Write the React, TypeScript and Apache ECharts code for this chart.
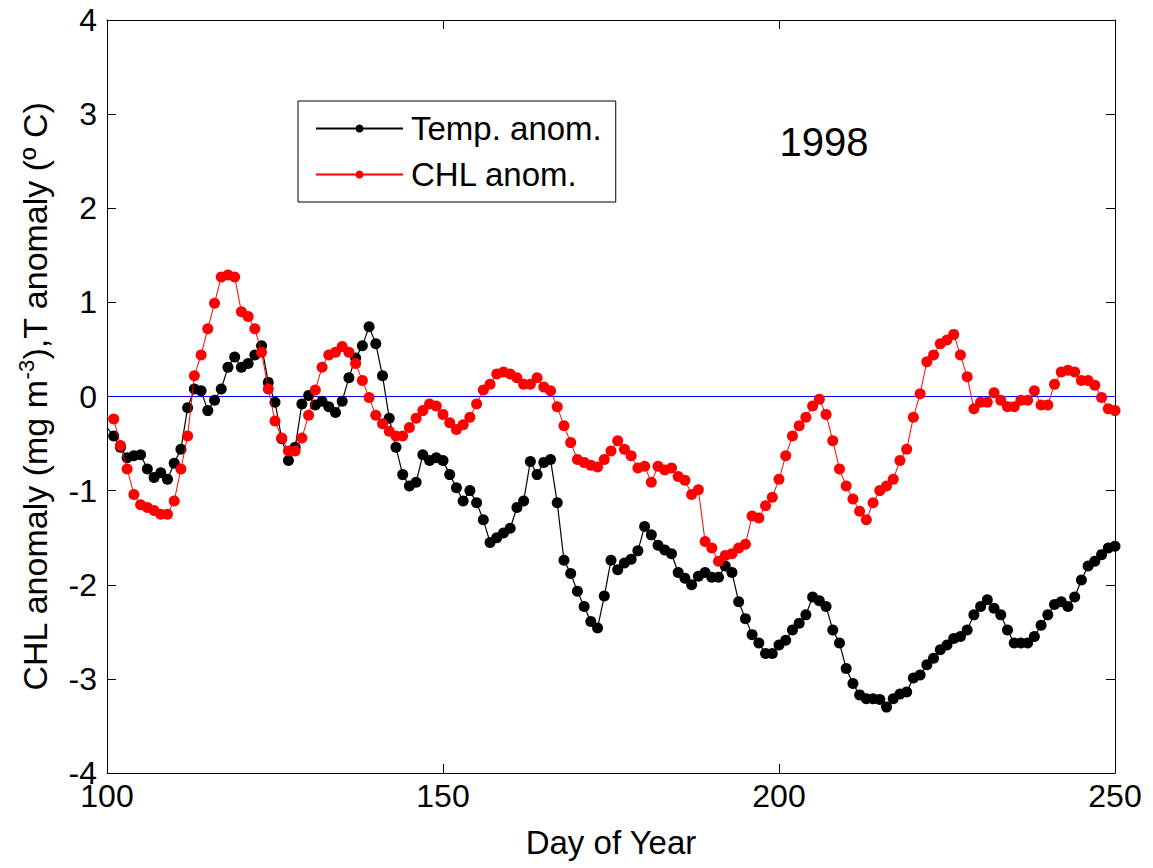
import React, { useEffect, useRef } from "react";
import * as echarts from "echarts";

const startDay = 100;
const xTicks = [100, 150, 200, 250];
const yTicks = [-4, -3, -2, -1, 0, 1, 2, 3, 4];
const seriesNames = ["Temp. anom.", "CHL anom."];
const yearLabel = "1998";

const tempAnom = [
  -0.33, -0.42, -0.54, -0.65, -0.63, -0.62, -0.77, -0.86, -0.81, -0.88,
  -0.71, -0.56, -0.12, 0.08, 0.06, -0.15, -0.04, 0.08, 0.31, 0.42,
  0.31, 0.35, 0.44, 0.54, 0.15, -0.06, -0.45, -0.68, -0.54, -0.08,
  0.01, -0.09, -0.05, -0.11, -0.17, -0.05, 0.2, 0.41, 0.54, 0.74,
  0.56, 0.22, -0.23, -0.54, -0.83, -0.95, -0.91, -0.62, -0.68, -0.65,
  -0.68, -0.83, -0.97, -1.11, -1.0, -1.13, -1.31, -1.55, -1.5, -1.45,
  -1.4, -1.18, -1.11, -0.69, -0.83, -0.7, -0.67, -1.13, -1.74, -1.88,
  -2.07, -2.23, -2.39, -2.46, -2.12, -1.74, -1.84, -1.77, -1.73, -1.64,
  -1.38, -1.47, -1.58, -1.63, -1.67, -1.87, -1.93, -2.0, -1.91, -1.87,
  -1.92, -1.92, -1.8, -1.87, -2.18, -2.36, -2.53, -2.62, -2.73, -2.73,
  -2.64, -2.59, -2.48, -2.41, -2.32, -2.13, -2.17, -2.23, -2.48, -2.62,
  -2.89, -3.05, -3.17, -3.21, -3.21, -3.22, -3.3, -3.21, -3.16, -3.14,
  -2.99, -2.96, -2.85, -2.78, -2.69, -2.64, -2.57, -2.55, -2.48, -2.32,
  -2.23, -2.16, -2.25, -2.32, -2.48, -2.62, -2.62, -2.62, -2.55, -2.43,
  -2.32, -2.21, -2.18, -2.23, -2.13, -1.95, -1.8, -1.75, -1.68, -1.61,
  -1.59,
];

const chlAnom = [
  -0.22, -0.24, -0.52, -0.77, -1.04, -1.15, -1.18, -1.21, -1.25, -1.25,
  -1.11, -0.77, -0.42, 0.22, 0.44, 0.72, 0.99, 1.27, 1.29, 1.27,
  0.9, 0.85, 0.72, 0.47, 0.08, -0.26, -0.44, -0.58, -0.58, -0.44,
  -0.2, 0.07, 0.31, 0.44, 0.47, 0.53, 0.47, 0.35, 0.17, -0.01,
  -0.2, -0.29, -0.37, -0.42, -0.42, -0.33, -0.23, -0.15, -0.08, -0.1,
  -0.19, -0.28, -0.35, -0.3, -0.22, -0.08, 0.07, 0.13, 0.24, 0.26,
  0.24, 0.2, 0.13, 0.13, 0.2, 0.1, 0.06, -0.11, -0.31, -0.49,
  -0.67, -0.7, -0.73, -0.75, -0.67, -0.58, -0.47, -0.56, -0.63, -0.76,
  -0.74, -0.91, -0.74, -0.78, -0.76, -0.85, -0.89, -1.04, -0.99, -1.54,
  -1.61, -1.75, -1.69, -1.67, -1.61, -1.57, -1.27, -1.29, -1.16, -1.07,
  -0.88, -0.63, -0.42, -0.31, -0.22, -0.1, -0.03, -0.19, -0.47, -0.77,
  -0.95, -1.09, -1.22, -1.31, -1.13, -1.0, -0.95, -0.88, -0.68, -0.56,
  -0.22, 0.03, 0.37, 0.44, 0.56, 0.6, 0.66, 0.44, 0.21, -0.13,
  -0.06, -0.06, 0.04, -0.04, -0.11, -0.11, -0.04, -0.04, 0.06, -0.09,
  -0.09, 0.13, 0.26, 0.28, 0.26, 0.17, 0.17, 0.12, -0.01, -0.13,
  -0.15,
];

const FONT = "'Liberation Sans', Arial, Helvetica, sans-serif";

function toPoints(values: number[]) {
  return values.map((v, i) => {
    const day = startDay + i;
    if (i === 0) return { value: [day, v], symbol: "none" };
    return { value: [day, v] };
  });
}

export default function App() {
  const ref = useRef<HTMLDivElement>(null);

  useEffect(() => {
    if (!ref.current) return;
    const chart = echarts.init(ref.current, null, { renderer: "svg" });
    const axisCommon = {
      type: "value" as const,
      axisLine: { show: true, onZero: false, lineStyle: { color: "#000", width: 1 } },
      axisTick: { show: true, inside: true, length: 9, lineStyle: { color: "#000", width: 1 } },
      splitLine: { show: false },
    };
    chart.setOption({
      animation: false,
      backgroundColor: "#fff",
      textStyle: { fontFamily: FONT },
      grid: { left: 107, right: 38, top: 20, bottom: 95, containLabel: false },
      legend: {
        orient: "vertical",
        left: 298,
        top: 101,
        data: seriesNames,
        itemWidth: 87,
        itemHeight: 10,
        itemGap: 13,
        padding: [11, 14, 11, 17],
        borderColor: "#000",
        borderWidth: 1,
        backgroundColor: "#fff",
        textStyle: { fontSize: 33, color: "#000", fontFamily: FONT, padding: [0, 0, 0, 3] },
      },
      xAxis: [
        {
          ...axisCommon,
          position: "bottom",
          min: xTicks[0],
          max: xTicks[xTicks.length - 1],
          interval: 50,
          axisLabel: { fontSize: 32, color: "#000", margin: 7, fontFamily: FONT },
          name: "Day of Year",
          nameLocation: "middle",
          nameGap: 53,
          nameTextStyle: { fontSize: 33, color: "#000", fontFamily: FONT },
        },
        {
          ...axisCommon,
          position: "top",
          min: xTicks[0],
          max: xTicks[xTicks.length - 1],
          interval: 50,
          axisLabel: { show: false },
        },
      ],
      yAxis: [
        {
          ...axisCommon,
          position: "left",
          min: yTicks[0],
          max: yTicks[yTicks.length - 1],
          interval: 1,
          axisLabel: { fontSize: 32, color: "#000", margin: 10, fontFamily: FONT },
          name: "{a|CHL anomaly (mg m}{s|-3}{a|),T anomaly (º C)}",
          nameLocation: "middle",
          nameGap: 52,
          nameTextStyle: {
            color: "#000",
            rich: {
              a: { fontSize: 34, color: "#000", fontFamily: FONT, lineHeight: 40 },
              s: { fontSize: 22, color: "#000", fontFamily: FONT, verticalAlign: "top", lineHeight: 40 },
            },
          },
        },
        {
          ...axisCommon,
          position: "right",
          min: yTicks[0],
          max: yTicks[yTicks.length - 1],
          interval: 1,
          axisLabel: { show: false },
        },
      ],
      graphic: [
        {
          type: "text",
          x: 824,
          y: 142,
          style: {
            text: yearLabel,
            fontSize: 40,
            fontFamily: FONT,
            fill: "#000",
            textAlign: "center",
            textVerticalAlign: "middle",
          },
        },
      ],
      series: [
        {
          name: seriesNames[0],
          type: "line",
          data: toPoints(tempAnom),
          symbol: "circle",
          symbolSize: 11,
          showAllSymbol: true,
          itemStyle: { color: "#000" },
          lineStyle: { color: "#000", width: 1.2 },
          z: 3,
          markLine: {
            silent: true,
            symbol: "none",
            label: { show: false },
            lineStyle: { color: "#0000ff", width: 1, type: "solid" },
            data: [{ yAxis: 0 }],
            z: 2,
          },
        },
        {
          name: seriesNames[1],
          type: "line",
          data: toPoints(chlAnom),
          symbol: "circle",
          symbolSize: 11,
          showAllSymbol: true,
          itemStyle: { color: "#ff0000" },
          lineStyle: { color: "#ff0000", width: 1 },
          z: 4,
        },
      ],
    });
    return () => chart.dispose();
  }, []);

  return (
    <div
      ref={ref}
      style={{ position: "fixed", left: 0, top: 0, width: 1153, height: 868, background: "#fff" }}
    />
  );
}
